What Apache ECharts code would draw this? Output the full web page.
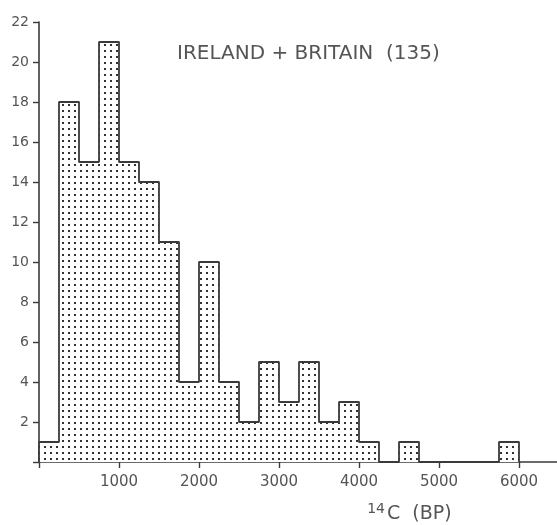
<!DOCTYPE html>
<html lang="en">
<head>
    <meta charset="UTF-8">
    <title>Ireland + Britain 14C histogram</title>
    <script src="https://cdn.jsdelivr.net/npm/echarts@6/dist/echarts.min.js"></script>
    <style>
        html, body {
            margin: 0;
            padding: 0;
            background: #fff;
        }

        #main {
            width: 557px;
            height: 525px;
        }
    </style>
</head>
<body>
<div id="main"></div>
<script>
    // bins are 250 years wide, starting at 0 BP
    var binWidth = 250;
    var binStarts = [0, 250, 500, 750, 1000, 1250, 1500, 1750, 2000, 2250, 2500, 2750, 3000, 3250, 3500, 3750,
        4000, 4250, 4500, 4750, 5000, 5250, 5500, 5750];
    var counts = [1, 18, 15, 21, 15, 14, 11, 4, 10, 4, 2, 5, 3, 5, 2, 3,
        1, 0, 1, 0, 0, 0, 0, 1];
    var xTicks = [0, 1000, 2000, 3000, 4000, 5000, 6000];
    var xLabels = [1000, 2000, 3000, 4000, 5000, 6000];
    var yTicks = [0, 2, 4, 6, 8, 10, 12, 14, 16, 18, 20, 22];
    var yLabels = [2, 4, 6, 8, 10, 12, 14, 16, 18, 20, 22];
    var titleText = 'IRELAND + BRITAIN  (135)';

    // step outline: one point at the left edge of every bin, closed back to zero
    var stepData = [[0, 0]];
    for (var i = 0; i < binStarts.length; i++) {
        stepData.push([binStarts[i], counts[i]]);
    }
    stepData.push([binStarts[binStarts.length - 1] + binWidth, 0]);

    // stippled fill
    var tile = document.createElement('canvas');
    tile.width = 6;
    tile.height = 6;
    var ctx = tile.getContext('2d');
    ctx.fillStyle = '#fff';
    ctx.fillRect(0, 0, 6, 6);
    ctx.fillStyle = '#333';
    ctx.fillRect(2, 2, 2, 2);

    var ink = '#3a3a3a';
    var myChart = echarts.init(document.getElementById('main'));
    var option = {
        animation: false,
        backgroundColor: '#fff',
        grid: {left: 39, right: 0, top: 22, bottom: 63},
        xAxis: {
            type: 'value',
            min: 0,
            max: 6475,
            interval: 1000,
            splitLine: {show: false},
            axisLine: {lineStyle: {color: ink, width: 1.6}},
            axisTick: {show: true, length: 6, customValues: xTicks, lineStyle: {color: ink, width: 1.4}},
            axisLabel: {
                customValues: xLabels,
                formatter: function (v) { return String(v); },
                margin: 13,
                color: '#555',
                fontFamily: 'DejaVu Sans',
                fontSize: 15
            }
        },
        yAxis: {
            type: 'value',
            min: 0,
            max: 22,
            interval: 2,
            splitLine: {show: false},
            axisLine: {show: true, lineStyle: {color: ink, width: 1.6}},
            axisTick: {show: true, length: 6, customValues: yTicks, lineStyle: {color: ink, width: 1.4}},
            axisLabel: {
                customValues: yLabels,
                margin: 10,
                color: '#555',
                fontFamily: 'DejaVu Sans',
                fontSize: 14,
                padding: [0, 0, 8, 0]
            }
        },
        series: [
            {
                type: 'line',
                step: 'end',
                data: stepData,
                symbol: 'none',
                silent: true,
                lineStyle: {color: ink, width: 1.8},
                areaStyle: {color: {image: tile, repeat: 'repeat'}, opacity: 1}
            }
        ],
        graphic: [
            {
                type: 'text',
                left: 177,
                top: 44,
                style: {text: titleText, fill: '#555', font: '20px "DejaVu Sans"'}
            },
            {
                type: 'text',
                right: 557 - 385,
                top: 502,
                style: {text: '14', fill: '#555', font: '14px "DejaVu Sans"'}
            },
            {
                type: 'text',
                left: 387,
                top: 505,
                style: {text: 'C  (BP)', fill: '#555', font: '19px "DejaVu Sans"'}
            }
        ]
    };
    myChart.setOption(option);
</script>
</body>
</html>
